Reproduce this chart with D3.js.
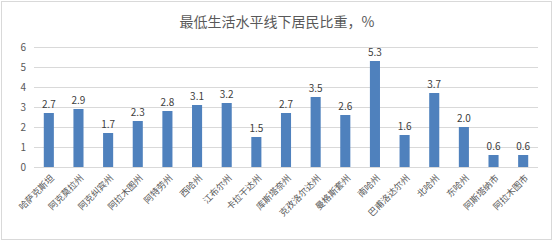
<!DOCTYPE html>
<html>
<head>
<meta charset="utf-8">
<script src="https://cdn.jsdelivr.net/npm/d3@7"></script>
<style>
  body { margin: 0; background: #fff; }
  text { font-family: "Noto Sans CJK SC", "Noto Sans", sans-serif; }
</style>
</head>
<body>
<script>
const regions = ['哈萨克斯坦', '阿克莫拉州', '阿克纠宾州', '阿拉木图州', '阿特劳州', '西哈州', '江布尔州', '卡拉干达州', '库斯塔奈州', '克孜洛尔达州', '曼格斯套州', '南哈州', '巴甫洛达尔州', '北哈州', '东哈州', '阿斯塔纳市', '阿拉木图市']
const shares = [2.7, 2.9, 1.7, 2.3, 2.8, 3.1, 3.2, 1.5, 2.7, 3.5, 2.6, 5.3, 1.6, 3.7, 2.0, 0.6, 0.6]
const yTicks = [0, 1, 2, 3, 4, 5, 6]

function main(){
    const width = 554
    const height = 242

    const svg = d3.select('body')
        .append('svg')
        .attr('width', width)
        .attr('height', height)

    // outer frame
    svg.append('rect')
        .attr('x', 1.5)
        .attr('y', 1.5)
        .attr('width', 550)
        .attr('height', 238)
        .attr('fill', '#fff')
        .attr('stroke', '#d9d9d9')

    svg.append('text')
        .attr('x', 277)
        .attr('y', 27)
        .attr('text-anchor', 'middle')
        .attr('font-size', '14px')
        .attr('fill', '#595959')
        .text('最低生活水平线下居民比重，%')

    const xScale = d3.scaleBand()
        .domain(regions)
        .range([34, 538])
        .paddingInner(0.66)
        .paddingOuter(0.33)

    const yScale = d3.scaleLinear()
        .domain([0, 6])
        .range([167, 47])

    // gridlines
    svg.append('g')
        .selectAll('line')
        .data(yTicks.slice(1))
        .enter()
        .append('line')
        .attr('x1', 34)
        .attr('x2', 538)
        .attr('y1', d => Math.round(yScale(d)) + 0.5)
        .attr('y2', d => Math.round(yScale(d)) + 0.5)
        .attr('stroke', '#d9d9d9')

    const yAxis = svg.append('g')
        .attr('transform', 'translate(34,0)')
        .call(d3.axisLeft(yScale).tickValues(yTicks).tickFormat(d3.format('d')).tickSize(0).tickPadding(8))
    yAxis.select('.domain').remove()
    yAxis.selectAll('text')
        .attr('font-size', '10px')
        .attr('fill', '#595959')
        .style('font-family', '"Noto Sans CJK SC", sans-serif')

    svg.selectAll('.bar')
        .data(shares)
        .enter()
        .append('rect')
        .attr('class', 'bar')
        .attr('x', (d, i) => xScale(regions[i]))
        .attr('y', d => yScale(d))
        .attr('width', xScale.bandwidth())
        .attr('height', d => yScale(0) - yScale(d))
        .attr('fill', '#4f81bd')

    svg.selectAll('.val')
        .data(shares)
        .enter()
        .append('text')
        .attr('class', 'val')
        .attr('x', (d, i) => xScale(regions[i]) + xScale.bandwidth() / 2)
        .attr('y', d => yScale(d) - 5)
        .attr('text-anchor', 'middle')
        .attr('font-size', '10px')
        .attr('fill', '#404040')
        .text(d => d.toFixed(1))

    // baseline
    svg.append('line')
        .attr('x1', 34)
        .attr('x2', 538)
        .attr('y1', Math.round(yScale(0)) + 0.5)
        .attr('y2', Math.round(yScale(0)) + 0.5)
        .attr('stroke', '#d9d9d9')

    svg.selectAll('.cat')
        .data(regions)
        .enter()
        .append('text')
        .attr('class', 'cat')
        .attr('transform', d => `translate(${xScale(d) + xScale.bandwidth() / 2 + 4},${177}) rotate(-45)`)
        .attr('text-anchor', 'end')
        .attr('dominant-baseline', 'middle')
        .attr('font-size', '9px')
        .attr('fill', '#595959')
        .text(d => d)
}

main()
</script>
</body>
</html>
